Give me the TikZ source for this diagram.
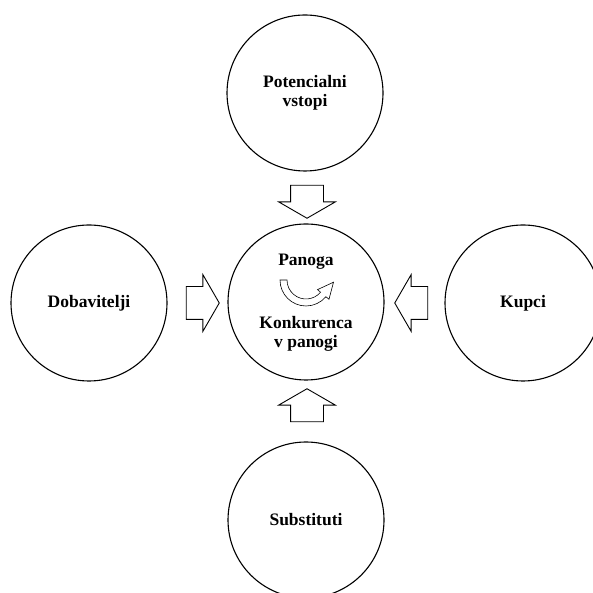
\documentclass[tikz,border=0pt]{standalone}
\usepackage{fontspec}
\setmainfont{Liberation Serif}
\usetikzlibrary{positioning, shapes.arrows, calc}

\begin{document}
\begin{tikzpicture}[
    x=1pt, y=1pt,
    font=\bfseries\fontsize{17.5}{19}\selectfont,
    force/.style={
        circle,
        draw,
        line width=1.1pt,
        align=center,
        minimum size=156pt,
        inner sep=0pt
    },
    push/.style={
        single arrow,
        draw,
        line width=0.9pt,
        minimum height=33pt,
        single arrow head extend=12pt,
        single arrow tip angle=120,
        inner xsep=0pt,
        inner ysep=16pt
    }
]
\useasboundingbox (0,0) rectangle (593,593);

\node[force] (ind) at (306,291) {};
\node[force] (entr) at (305,500) {Potencialni\\vstopi};
\node[force] (supp) at (89,290) {Dobavitelji};
\node[force] (buy) at (523,290) {Kupci};
\node[force] (subs) at (306,73) {Substituti};

\node (ttl) at ([yshift=40pt]ind.center) {Panoga};
\node[align=center] (riv) at ([yshift=-32pt]ind.center) {Konkurenca\\v panogi};

% forces pushing into the industry
\node[push, rotate=-90] (aentr) at (307,396) {};
\node[push] (asupp) at (198,290) {};
\node[push, rotate=180] (abuy) at (416,290) {};
\node[push, rotate=90] (asubs) at (307,183) {};

% curved arrow
\coordinate (bend) at (306,313);
\draw[line width=0.6pt]
    ([shift={(180:26)}]bend) arc[start angle=180, end angle=320, radius=26]
    -- ([shift={(320:30)}]bend)
    -- ($(bend)+(320:22.5)+(50:16)$)
    -- ([shift={(320:15)}]bend)
    -- ([shift={(320:19)}]bend) arc[start angle=320, end angle=180, radius=19]
    -- cycle;

\end{tikzpicture}
\end{document}
